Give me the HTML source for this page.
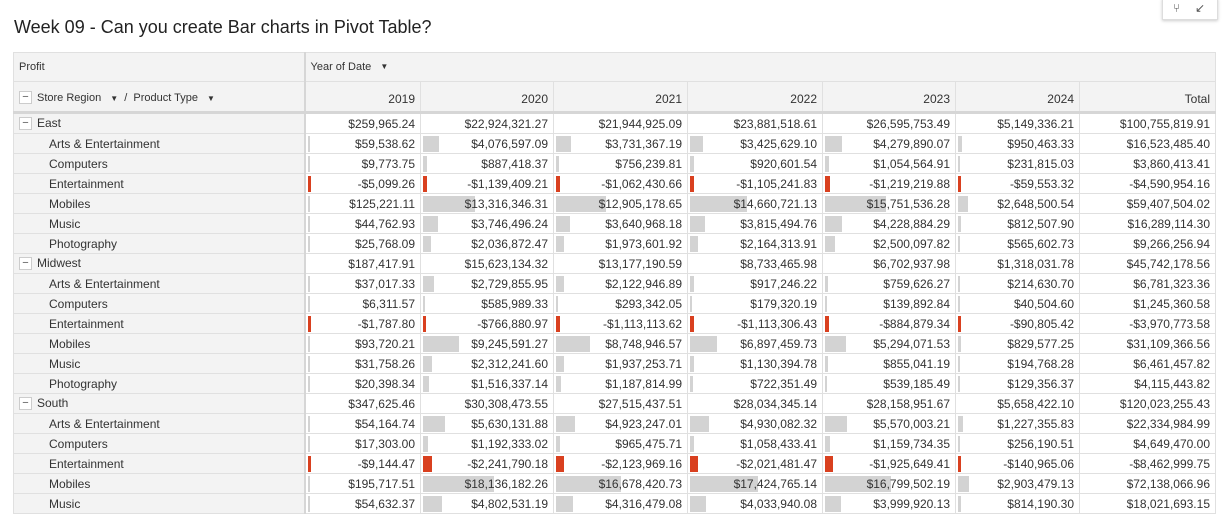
<!DOCTYPE html>
<html><head><meta charset="utf-8"><style>
body{margin:0;width:1228px;height:523px;background:#fff;font-family:"Liberation Sans",sans-serif;color:#333;overflow:hidden;position:relative}
.title{position:absolute;left:14px;top:17px;font-size:18px;color:#222}
.tb{position:absolute;left:1162px;top:-2px;width:54px;height:20px;border:1px solid #ddd;box-shadow:0 1px 3px #ccc;background:#fff;font-size:12px;color:#555}
table{position:absolute;left:13px;top:52px;border-collapse:collapse;table-layout:fixed;font-size:12px}
td{border:1px solid #e0e0e0;padding:0 5px;height:19px;line-height:14px;white-space:nowrap;overflow:hidden;position:relative;vertical-align:middle}
.h td{background:#f3f3f3;color:#333;font-size:11px}
.h1 td{height:28px}
.h2 td{height:25px;border-bottom:3px solid #d6d6d6;font-size:12px;padding-top:4px}
.h2 td:first-child{font-size:11px}
td.l{background:#f3f3f3;border-right:2px solid #d6d6d6}
.p td.l{padding-left:35px}
td.n{text-align:right}
td.n span{position:relative;z-index:1}
.bar{position:absolute;left:2px;top:2px;height:16px;background:#d3d3d3}
.neg{background:#d9401f}
.box{display:inline-block;width:11px;height:11px;border:1px solid #ccc;background:#fff;font-size:11px;line-height:10px;text-align:center;vertical-align:middle;margin-right:5px;color:#555;position:relative;top:-1px}
.arr{font-size:8px;margin:0 6px 0 6px;vertical-align:middle}
</style></head><body>
<div class="title">Week 09 - Can you create Bar charts in Pivot Table?</div>
<div class="tb"><span style="position:absolute;left:10px;top:2px">⑂</span><span style="position:absolute;left:32px;top:2px">↙</span></div>
<table id="t">
<colgroup><col style="width:291px"><col style="width:116px"><col style="width:133px"><col style="width:134px"><col style="width:135px"><col style="width:133px"><col style="width:124px"><col style="width:136px"></colgroup>
<tr class="h h1"><td style="border-right:2px solid #d6d6d6">Profit</td><td colspan="7">Year of Date <span class="arr">▼</span></td></tr>
<tr class="h h2"><td style="border-right:2px solid #d6d6d6"><span class="box">−</span>Store Region <span class="arr">▼</span>/ &nbsp;Product Type <span class="arr">▼</span></td><td class="n">2019</td><td class="n">2020</td><td class="n">2021</td><td class="n">2022</td><td class="n">2023</td><td class="n">2024</td><td class="n">Total</td></tr>
<tr class="r"><td class="l"><span class="box">−</span>East</td><td class="n">$259,965.24</td><td class="n">$22,924,321.27</td><td class="n">$21,944,925.09</td><td class="n">$23,881,518.61</td><td class="n">$26,595,753.49</td><td class="n">$5,149,336.21</td><td class="n">$100,755,819.91</td></tr>
<tr class="p"><td class="l">Arts &amp; Entertainment</td><td class="n">$59,538.62</td><td class="n">$4,076,597.09</td><td class="n">$3,731,367.19</td><td class="n">$3,425,629.10</td><td class="n">$4,279,890.07</td><td class="n">$950,463.33</td><td class="n">$16,523,485.40</td></tr>
<tr class="p"><td class="l">Computers</td><td class="n">$9,773.75</td><td class="n">$887,418.37</td><td class="n">$756,239.81</td><td class="n">$920,601.54</td><td class="n">$1,054,564.91</td><td class="n">$231,815.03</td><td class="n">$3,860,413.41</td></tr>
<tr class="p"><td class="l">Entertainment</td><td class="n">-$5,099.26</td><td class="n">-$1,139,409.21</td><td class="n">-$1,062,430.66</td><td class="n">-$1,105,241.83</td><td class="n">-$1,219,219.88</td><td class="n">-$59,553.32</td><td class="n">-$4,590,954.16</td></tr>
<tr class="p"><td class="l">Mobiles</td><td class="n">$125,221.11</td><td class="n">$13,316,346.31</td><td class="n">$12,905,178.65</td><td class="n">$14,660,721.13</td><td class="n">$15,751,536.28</td><td class="n">$2,648,500.54</td><td class="n">$59,407,504.02</td></tr>
<tr class="p"><td class="l">Music</td><td class="n">$44,762.93</td><td class="n">$3,746,496.24</td><td class="n">$3,640,968.18</td><td class="n">$3,815,494.76</td><td class="n">$4,228,884.29</td><td class="n">$812,507.90</td><td class="n">$16,289,114.30</td></tr>
<tr class="p"><td class="l">Photography</td><td class="n">$25,768.09</td><td class="n">$2,036,872.47</td><td class="n">$1,973,601.92</td><td class="n">$2,164,313.91</td><td class="n">$2,500,097.82</td><td class="n">$565,602.73</td><td class="n">$9,266,256.94</td></tr>
<tr class="r"><td class="l"><span class="box">−</span>Midwest</td><td class="n">$187,417.91</td><td class="n">$15,623,134.32</td><td class="n">$13,177,190.59</td><td class="n">$8,733,465.98</td><td class="n">$6,702,937.98</td><td class="n">$1,318,031.78</td><td class="n">$45,742,178.56</td></tr>
<tr class="p"><td class="l">Arts &amp; Entertainment</td><td class="n">$37,017.33</td><td class="n">$2,729,855.95</td><td class="n">$2,122,946.89</td><td class="n">$917,246.22</td><td class="n">$759,626.27</td><td class="n">$214,630.70</td><td class="n">$6,781,323.36</td></tr>
<tr class="p"><td class="l">Computers</td><td class="n">$6,311.57</td><td class="n">$585,989.33</td><td class="n">$293,342.05</td><td class="n">$179,320.19</td><td class="n">$139,892.84</td><td class="n">$40,504.60</td><td class="n">$1,245,360.58</td></tr>
<tr class="p"><td class="l">Entertainment</td><td class="n">-$1,787.80</td><td class="n">-$766,880.97</td><td class="n">-$1,113,113.62</td><td class="n">-$1,113,306.43</td><td class="n">-$884,879.34</td><td class="n">-$90,805.42</td><td class="n">-$3,970,773.58</td></tr>
<tr class="p"><td class="l">Mobiles</td><td class="n">$93,720.21</td><td class="n">$9,245,591.27</td><td class="n">$8,748,946.57</td><td class="n">$6,897,459.73</td><td class="n">$5,294,071.53</td><td class="n">$829,577.25</td><td class="n">$31,109,366.56</td></tr>
<tr class="p"><td class="l">Music</td><td class="n">$31,758.26</td><td class="n">$2,312,241.60</td><td class="n">$1,937,253.71</td><td class="n">$1,130,394.78</td><td class="n">$855,041.19</td><td class="n">$194,768.28</td><td class="n">$6,461,457.82</td></tr>
<tr class="p"><td class="l">Photography</td><td class="n">$20,398.34</td><td class="n">$1,516,337.14</td><td class="n">$1,187,814.99</td><td class="n">$722,351.49</td><td class="n">$539,185.49</td><td class="n">$129,356.37</td><td class="n">$4,115,443.82</td></tr>
<tr class="r"><td class="l"><span class="box">−</span>South</td><td class="n">$347,625.46</td><td class="n">$30,308,473.55</td><td class="n">$27,515,437.51</td><td class="n">$28,034,345.14</td><td class="n">$28,158,951.67</td><td class="n">$5,658,422.10</td><td class="n">$120,023,255.43</td></tr>
<tr class="p"><td class="l">Arts &amp; Entertainment</td><td class="n">$54,164.74</td><td class="n">$5,630,131.88</td><td class="n">$4,923,247.01</td><td class="n">$4,930,082.32</td><td class="n">$5,570,003.21</td><td class="n">$1,227,355.83</td><td class="n">$22,334,984.99</td></tr>
<tr class="p"><td class="l">Computers</td><td class="n">$17,303.00</td><td class="n">$1,192,333.02</td><td class="n">$965,475.71</td><td class="n">$1,058,433.41</td><td class="n">$1,159,734.35</td><td class="n">$256,190.51</td><td class="n">$4,649,470.00</td></tr>
<tr class="p"><td class="l">Entertainment</td><td class="n">-$9,144.47</td><td class="n">-$2,241,790.18</td><td class="n">-$2,123,969.16</td><td class="n">-$2,021,481.47</td><td class="n">-$1,925,649.41</td><td class="n">-$140,965.06</td><td class="n">-$8,462,999.75</td></tr>
<tr class="p"><td class="l">Mobiles</td><td class="n">$195,717.51</td><td class="n">$18,136,182.26</td><td class="n">$16,678,420.73</td><td class="n">$17,424,765.14</td><td class="n">$16,799,502.19</td><td class="n">$2,903,479.13</td><td class="n">$72,138,066.96</td></tr>
<tr class="p"><td class="l">Music</td><td class="n">$54,632.37</td><td class="n">$4,802,531.19</td><td class="n">$4,316,479.08</td><td class="n">$4,033,940.08</td><td class="n">$3,999,920.13</td><td class="n">$814,190.30</td><td class="n">$18,021,693.15</td></tr>
</table>
<script>
document.querySelectorAll('tr.p').forEach(function(tr){
  var c=tr.querySelectorAll('td.n');
  for(var i=0;i<c.length;i++){
    var t=c[i].textContent;c[i].innerHTML='<span>'+t+'</span>';
    if(i>5)continue;
    var v=parseFloat(t.replace(/[$,]/g,''));
    var w=Math.max(2,Math.abs(v)*3.9/1e6);
    if(v<0)w=Math.max(3,w);
    var b=document.createElement('div');b.className='bar'+(v<0?' neg':'');b.style.width=w.toFixed(1)+'px';
    c[i].appendChild(b);
  }
});
</script>
</body></html>
